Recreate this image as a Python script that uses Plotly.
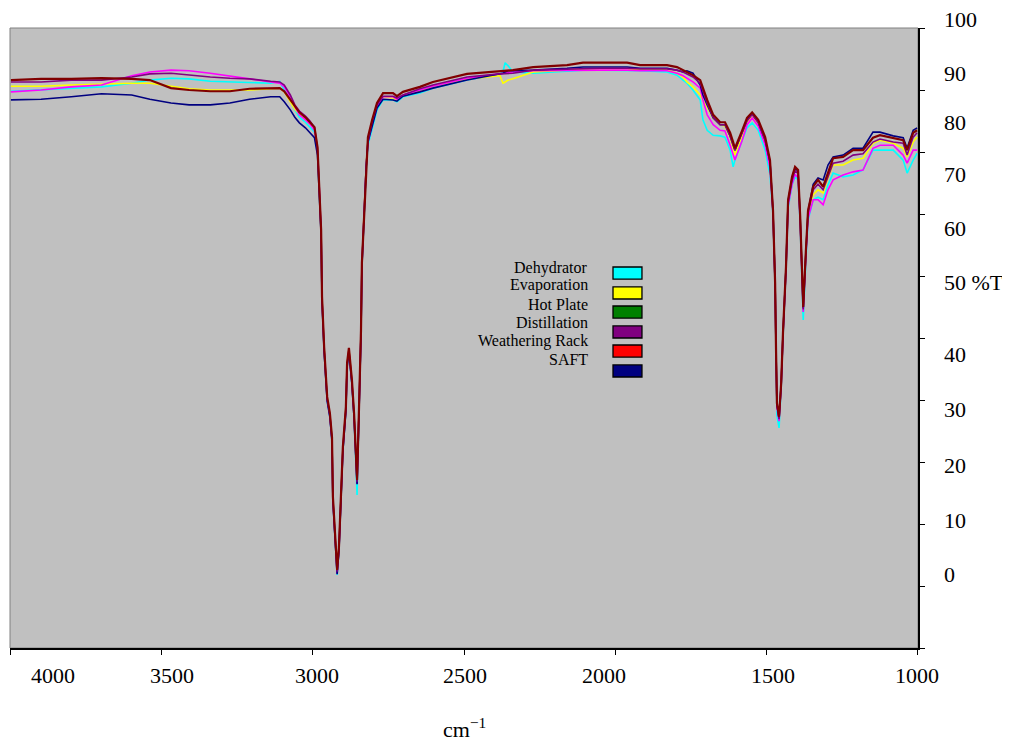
import plotly.graph_objects as go

wavenumber = [4000,3900,3800,3700,3600,3540,3470,3410,3340,3275,3210,3140,3110,3095,3075,3060,3045,3025,3010,2995,
              2985,2980,2973,2970,2963,2953,2944,2937,2934,2927,2920,2914,2907,2901,2891,2887,2881,2871,2864,2854,
              2848,2841,2838,2831,2824,2818,2804,2788,2768,2735,2722,2702,2646,2603,2490,2381,2371,2364,2354,2338,
              2271,2159,2106,2050,1960,1917,1828,1795,1775,1762,1742,1718,1709,1695,1675,1652,1636,1619,1609,1603,
              1579,1563,1546,1526,1503,1487,1477,1470,1467,1464,1457,1450,1444,1434,1427,1414,1404,1394,1387,1381,
              1377,1368,1361,1344,1328,1311,1295,1278,1245,1212,1179,1146,1123,1079,1046,1033,1013,1000]

dehydrator = [89.8,90.0,90.2,90.5,91.1,91.6,91.9,91.8,91.4,91.3,91.1,91.1,91.4,90.0,88.4,86.8,85.6,84.8,84.0,83.2,80.0,
              74.9,66.8,56.0,47.9,39.9,37.3,33.4,23.8,17.9,11.8,15.7,23.8,31.8,38.3,45.4,47.8,42.6,37.3,24.7,37.3,50.7,61.5,69.6,77.0,
              81.1,84.0,86.8,88.4,88.4,88.1,88.9,89.5,90.3,91.6,92.6,92.9,94.4,93.9,92.9,92.7,93.1,93.2,93.2,93.2,93.1,92.9,92.4,91.6,91.1,
              90.0,88.4,85.2,83.5,82.7,82.6,82.4,80.3,77.6,78.7,81.9,83.9,84.7,83.5,80.3,76.3,
              69.8,58.1,47.3,37.5,35.5,41.9,50.0,60.7,71.0,
              74.7,76.0,75.5,68.2,56.9,52.9,62.6,69.0,72.3,72.7,72.3,74.7,76.6,76.0,76.3,77.1,80.3,80.3,80.3,78.7,76.6,78.7,79.8]

evaporation = [90.6,90.6,90.8,91.0,91.1,91.1,90.6,90.2,90.0,90.0,90.0,90.2,90.3,89.7,88.2,86.9,86.1,85.3,84.5,83.7,80.5,
               75.3,67.2,56.4,48.3,40.3,37.7,33.8,24.2,18.3,12.4,16.1,24.2,32.2,38.7,45.8,48.2,43.0,37.7,26.9,37.7,51.1,61.9,70.0,77.8,81.9,
               84.8,87.4,88.9,88.7,88.4,89.2,89.8,90.6,91.8,92.3,91.1,91.3,91.6,91.8,92.9,93.2,93.4,93.4,93.4,93.2,93.2,92.7,92.1,91.3,
               90.5,89.2,88.4,87.3,85.5,84.4,84.2,82.4,80.3,79.5,82.7,84.8,85.6,84.5,81.6,77.9,
               70.2,58.5,47.7,39.1,36.9,42.3,50.4,61.1,71.9,75.6,77.2,76.7,69.1,58.5,54.6,63.8,70.2,
               73.1,73.9,73.4,75.8,77.9,77.9,78.7,79.0,81.4,81.9,81.4,80.6,79.2,81.6,82.4]

hot_plate = [89.7,90.0,90.5,90.8,92.3,92.9,93.2,93.1,92.7,92.3,91.8,91.3,91.1,90.5,88.9,87.3,86.0,85.2,84.5,83.5,80.3,
             75.1,67.0,56.2,48.1,40.1,37.5,33.6,24.0,18.1,12.0,15.9,24.0,32.0,38.5,45.6,48.0,42.8,37.5,26.5,37.5,50.9,61.7,69.8,77.4,81.5,
             84.5,87.3,88.9,88.9,88.5,89.2,90.0,90.6,91.9,92.6,92.6,92.7,92.7,92.9,93.1,93.2,93.2,93.2,93.2,93.1,93.1,92.7,92.3,91.9,
             91.3,90.3,88.4,86.0,84.4,83.5,83.4,81.1,79.5,78.7,81.9,84.4,85.5,84.2,81.1,77.4,
             70.1,58.4,47.6,38.8,36.6,42.2,50.3,61.0,71.3,74.8,76.4,75.8,68.6,58.2,54.2,63.4,69.3,
             72.3,72.3,71.5,73.9,75.5,76.3,76.8,77.1,80.6,81.1,81.1,79.5,78.2,80.3,80.3]

distillation = [91.3,91.3,91.6,91.6,92.1,92.6,92.7,92.4,92.1,91.9,91.8,91.4,91.3,90.8,89.2,87.6,86.6,85.8,85.0,84.0,80.6,
                75.2,67.1,56.3,48.2,40.2,37.6,33.7,24.1,18.2,12.3,16.0,24.1,32.1,38.6,45.7,48.1,42.9,37.6,26.8,37.6,51.0,61.8,69.9,77.6,81.8,
                85.0,87.6,89.0,89.0,88.7,89.2,90.2,90.8,92.1,92.6,92.6,92.6,92.7,92.7,93.2,93.4,93.5,93.5,93.5,93.4,93.4,93.2,92.9,92.6,
                92.1,91.1,89.7,87.9,85.5,84.4,84.4,82.6,81.1,80.3,83.1,85.0,86.1,84.8,81.9,78.4,
                70.3,58.6,47.8,39.2,36.9,42.4,50.5,61.2,71.8,75.4,77.0,76.5,69.1,58.5,54.6,63.8,70.1,
                73.9,74.8,73.9,76.0,78.2,78.5,79.5,79.7,81.6,82.1,81.6,81.4,79.5,82.4,83.1]

weathering_rack = [91.6,91.8,91.8,91.9,91.8,91.6,90.3,90.0,89.8,89.8,90.2,90.3,90.3,89.8,88.4,87.3,86.4,85.6,84.8,84.0,
                   80.8,75.5,67.4,56.6,48.5,40.5,37.9,34.0,24.4,18.5,
                   12.6,16.3,24.4,32.4,38.9,46.0,48.4,43.2,37.9,27.1,
                   37.9,51.3,62.1,70.2,78.2,82.4,85.2,87.9,89.5,89.5,
                   89.0,89.7,90.5,91.3,92.6,93.1,93.1,93.1,93.2,93.2,
                   93.7,94.0,94.4,94.4,94.4,94.0,94.0,93.7,93.2,92.9,
                   92.4,91.6,90.3,88.4,86.0,84.8,84.8,83.1,81.6,80.6,
                   83.5,85.5,86.4,85.2,82.4,78.7,70.6,58.9,48.1,39.5,
                   37.3,42.7,50.8,61.5,72.3,76.0,77.6,77.1,69.5,58.9,
                   55.0,64.2,70.6,74.4,75.5,74.4,76.6,79.0,79.2,80.3,
                   80.3,82.3,82.7,82.3,81.9,80.3,83.1,83.5]

saft = [88.4,88.5,88.9,89.4,89.2,88.5,87.9,87.6,87.6,87.9,88.5,88.9,88.9,88.1,86.8,85.6,84.7,83.9,83.1,82.3,79.5,
        74.8,66.7,55.9,47.8,39.8,37.2,33.3,23.7,17.8,11.9,15.6,23.7,31.7,38.2,45.3,47.7,42.5,37.2,26.4,37.2,50.6,61.4,69.5,77.5,
        81.6,84.2,87.1,88.5,88.4,88.2,89.0,89.7,90.3,91.6,92.6,92.7,92.9,93.1,93.1,93.2,93.5,93.7,93.7,93.7,93.5,93.5,93.2,92.9,93.1,
        92.7,90.8,89.2,87.6,85.5,84.4,84.4,82.6,81.0,80.3,83.2,85.2,86.1,84.8,81.9,78.4,
        70.4,58.7,47.9,39.3,37.1,42.5,50.6,61.3,72.1,75.8,77.4,76.9,69.3,58.7,54.8,64.0,70.4,
        74.8,75.8,75.5,77.9,79.2,79.5,80.6,80.6,83.2,83.2,82.6,82.3,80.6,83.5,83.9]

series_names = ["Dehydrator", "Evaporation", "Hot Plate", "Distillation", "Weathering Rack", "SAFT"]
series_values = [dehydrator, evaporation, hot_plate, distillation, weathering_rack, saft]
line_colors = ["#00FFFF", "#FFFF00", "#FF00FF", "#800080", "#800000", "#000080"]
legend_colors = ["#00FFFF", "#FFFF00", "#008000", "#800080", "#FF0000", "#000080"]

x_tick_labels = ["4000", "3500", "3000", "2500", "2000", "1500", "1000"]
x_label_pos = [3861, 3467, 2987, 2497, 2036, 1477, 1000]
y_tick_labels = ["100", "90", "80", "70", "60", "50 %T", "40", "30", "20", "10", "0"]
y_label_pos = [101.3, 92.7, 84.7, 76.3, 67.6, 58.9, 47.4, 38.5, 29.4, 20.6, 11.8]
Y_MIN, Y_MAX = 0, 100

for v in series_values:
    assert len(v) == len(wavenumber), (len(v), len(wavenumber))

fig = go.Figure()
draw_order = [0, 1, 2, 5, 3, 4]
for i in draw_order:
    fig.add_trace(go.Scatter(
        x=wavenumber, y=series_values[i], mode="lines", name=series_names[i],
        line=dict(color=line_colors[i], width=2.2 if i == 4 else 1.6),
        showlegend=False))

FONT = "Liberation Serif, Times New Roman, serif"
annotations = []
for txt, pos in zip(x_tick_labels, x_label_pos):
    annotations.append(dict(x=pos, xref="x", y=-0.045, yref="paper", text=txt, showarrow=False,
                            xanchor="center", yanchor="middle", font=dict(family=FONT, size=22, color="black")))
for txt, pos in zip(y_tick_labels, y_label_pos):
    annotations.append(dict(x=1.0264, xref="paper", y=(pos - Y_MIN) / (Y_MAX - Y_MIN), yref="paper",
                            text=txt, showarrow=False, xanchor="left", yanchor="middle",
                            font=dict(family=FONT, size=22, color="black")))
annotations.append(dict(x=0.501, xref="paper", y=-0.129, yref="paper", text="cm<sup>\u22121</sup>",
                        showarrow=False, xanchor="center", yanchor="middle",
                        font=dict(family=FONT, size=22, color="black")))

# custom legend
text_y = [0.6129, 0.5855, 0.5548, 0.5258, 0.4952, 0.4661]
swatch_y = [0.6048, 0.5726, 0.5419, 0.5097, 0.4790, 0.4468]
shapes = []
for name, col, ty, sy in zip(series_names, legend_colors, text_y, swatch_y):
    annotations.append(dict(x=0.6388, xref="paper", y=ty, yref="paper", text=name, showarrow=False,
                            xanchor="right", yanchor="middle", font=dict(family=FONT, size=16, color="black")))
    shapes.append(dict(type="rect", xref="paper", yref="paper", x0=0.6641, x1=0.6960,
                       y0=sy - 0.0097, y1=sy + 0.0097, fillcolor=col, line=dict(color="black", width=1.3)))

# plot area border (left / top gray)
shapes.append(dict(type="rect", xref="paper", yref="paper", x0=0, x1=1, y0=0, y1=1,
                   line=dict(color="#808080", width=1), layer="below"))

# the page body adds an 8px offset, so the figure is sized to fit the window
fig.update_layout(
    width=1002, height=736,
    margin=dict(l=2, r=92, t=20, b=96),
    paper_bgcolor="white", plot_bgcolor="#C0C0C0",
    annotations=annotations, shapes=shapes,
    xaxis=dict(range=[4003, 997], tickmode="array", tickvals=[4000, 3500, 3000, 2500, 2000, 1500, 1000],
               showticklabels=False, ticks="outside", ticklen=5, tickcolor="black",
               showline=True, linecolor="black", linewidth=1.5, showgrid=False, zeroline=False),
    yaxis=dict(range=[Y_MIN, Y_MAX], side="right", tickmode="array", tickvals=list(range(0, 101, 10)),
               showticklabels=False, ticks="outside", ticklen=5, tickcolor="black",
               showline=True, linecolor="black", linewidth=1.5, showgrid=False, zeroline=False),
)

fig.write_html("out.html", config={"displayModeBar": False})
